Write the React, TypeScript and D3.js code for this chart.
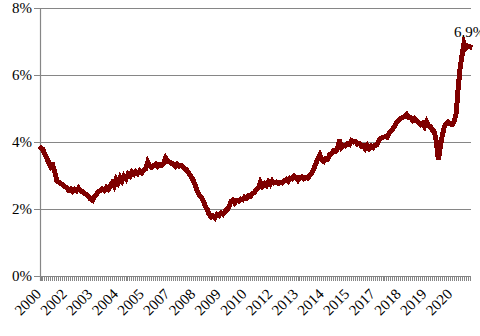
import React from "react";
import * as d3 from "d3";

const values: number[] = [
  3.82, 3.78, 3.62, 3.5, 3.38, 3.25, 3.3, 3.1, 2.85, 2.8,
  2.76, 2.72, 2.66, 2.64, 2.56, 2.6, 2.52, 2.58, 2.54, 2.62,
  2.54, 2.52, 2.46, 2.44, 2.38, 2.3, 2.26, 2.38, 2.44, 2.52,
  2.54, 2.6, 2.55, 2.64, 2.58, 2.68, 2.78, 2.68, 2.88, 2.78,
  2.94, 2.84, 2.98, 2.9, 3.04, 2.98, 3.1, 3.04, 3.12, 3.06,
  3.14, 3.08, 3.16, 3.2, 3.4, 3.28, 3.24, 3.3, 3.34, 3.26,
  3.32, 3.3, 3.36, 3.52, 3.42, 3.4, 3.36, 3.34, 3.28, 3.34,
  3.28, 3.3, 3.24, 3.2, 3.14, 3.05, 2.96, 2.86, 2.72, 2.55,
  2.42, 2.35, 2.25, 2.1, 2.0, 1.84, 1.76, 1.8, 1.74, 1.84,
  1.8, 1.88, 1.84, 1.92, 1.98, 2.04, 2.22, 2.27, 2.18, 2.26,
  2.24, 2.3, 2.28, 2.36, 2.32, 2.4, 2.38, 2.46, 2.5, 2.58,
  2.64, 2.8, 2.68, 2.76, 2.7, 2.82, 2.74, 2.84, 2.78, 2.8,
  2.76, 2.8, 2.78, 2.84, 2.88, 2.82, 2.92, 2.9, 2.98, 2.94,
  2.86, 2.94, 2.96, 2.9, 2.94, 2.92, 3.0, 3.08, 3.2, 3.35,
  3.5, 3.62, 3.46, 3.42, 3.5, 3.48, 3.62, 3.66, 3.74, 3.72,
  3.8, 4.06, 3.84, 3.9, 3.88, 3.94, 3.92, 4.04, 4.0, 4.02,
  3.94, 3.96, 3.88, 3.9, 3.8, 3.9, 3.8, 3.88, 3.84, 3.9,
  3.92, 4.05, 4.12, 4.14, 4.16, 4.14, 4.25, 4.32, 4.4, 4.48,
  4.6, 4.66, 4.7, 4.74, 4.76, 4.82, 4.72, 4.72, 4.64, 4.7,
  4.62, 4.58, 4.52, 4.56, 4.46, 4.6, 4.48, 4.46, 4.36, 4.3,
  4.0, 3.46, 3.85, 4.2, 4.45, 4.55, 4.6, 4.54, 4.52, 4.62,
  4.85, 5.6, 6.2, 6.6, 6.95, 6.8, 6.86, 6.84,
];

const yearLabels: string[] = [
  "2000", "2002", "2003", "2004", "2005", "2007", "2008", "2009", "2010",
  "2012", "2013", "2014", "2015", "2017", "2018", "2019", "2020",
];
const labelEvery = 13;

const yTicks: number[] = [0, 2, 4, 6, 8];
const endLabel = "6.9%";

export default function App() {
  const W = 480;
  const H = 336;
  const left = 40;
  const right = 471;
  const top = 8;
  const bottom = 276;

  const x = d3.scaleLinear().domain([0, values.length - 1]).range([left + 1, right - 1]);
  const y = d3.scaleLinear().domain([0, 8]).range([bottom, top]);

  const line = d3
    .line<number>()
    .x((_, i) => x(i))
    .y((d) => y(d));

  const font = "'Liberation Serif', 'Times New Roman', serif";
  const gray = "#868686";

  return (
    <svg
      width={W}
      height={H}
      style={{ position: "absolute", left: 0, top: 0 }}
      fontFamily={font}
    >
      {yTicks.map((t) => (
        <g key={t}>
          <line
            x1={left - 6}
            x2={right}
            y1={Math.round(y(t)) + 0.5}
            y2={Math.round(y(t)) + 0.5}
            stroke={gray}
            strokeWidth={1.2}
          />
          <text
            x={32}
            y={y(t)}
            dy="0.35em"
            textAnchor="end"
            fontSize={15}
            fill="#000"
          >
            {t}%
          </text>
        </g>
      ))}
      <line x1={left + 0.5} x2={left + 0.5} y1={top} y2={bottom + 5} stroke={gray} strokeWidth={1.2} />
      <g shapeRendering="crispEdges">
        {values.map((_, i) => (
          <line
            key={i}
            x1={x(i)}
            x2={x(i)}
            y1={bottom}
            y2={bottom + 5}
            stroke={gray}
            strokeWidth={1}
          />
        ))}
      </g>
      {yearLabels.map((lab, k) => {
        const px = x(k * labelEvery);
        return (
          <text
            key={lab}
            transform={`translate(${px + 1},${295}) rotate(-45)`}
            textAnchor="end"
            fontSize={15}
            fill="#000"
          >
            {lab}
          </text>
        );
      })}
      <path
        d={line(values) || ""}
        fill="none"
        stroke="#7f0000"
        strokeWidth={5}
        strokeLinejoin="miter"
        strokeLinecap="square"
        shapeRendering="crispEdges"
      />
      <text x={454} y={37} fontSize={15} fill="#000">
        {endLabel}
      </text>
    </svg>
  );
}
